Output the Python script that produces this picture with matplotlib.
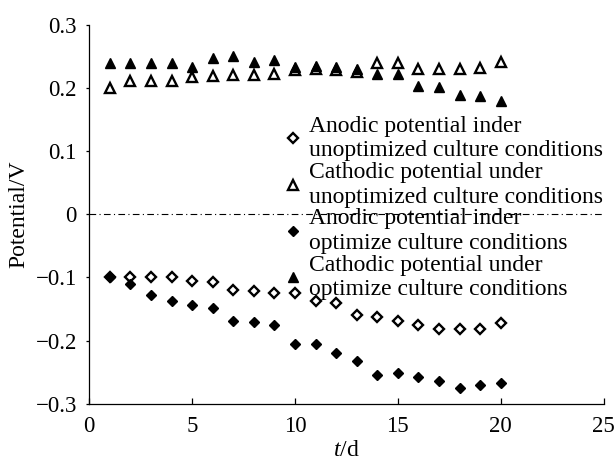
import matplotlib
matplotlib.use("Agg")
import matplotlib.pyplot as plt

plt.rcParams["font.family"] = ["Liberation Serif", "DejaVu Serif"]
plt.rcParams["mathtext.fontset"] = "custom"
plt.rcParams["mathtext.rm"] = "Liberation Serif"
plt.rcParams["mathtext.it"] = "Liberation Serif:italic"

days = list(range(1, 21))

anodic_unopt = [-0.100, -0.100, -0.100, -0.100, -0.105, -0.107, -0.120, -0.122, -0.125, -0.125,
                -0.138, -0.140, -0.159, -0.162, -0.169, -0.175, -0.181, -0.181, -0.182, -0.172]
cathodic_unopt = [0.200, 0.211, 0.211, 0.211, 0.217, 0.219, 0.220, 0.220, 0.223, 0.228,
                  0.230, 0.229, 0.226, 0.239, 0.239, 0.230, 0.230, 0.231, 0.232, 0.242]
anodic_opt = [-0.100, -0.111, -0.127, -0.138, -0.144, -0.148, -0.169, -0.171, -0.175, -0.206,
              -0.206, -0.219, -0.233, -0.255, -0.251, -0.258, -0.264, -0.275, -0.271, -0.267]
cathodic_opt = [0.240, 0.240, 0.240, 0.240, 0.234, 0.247, 0.251, 0.241, 0.245, 0.234,
                0.235, 0.234, 0.230, 0.222, 0.222, 0.203, 0.202, 0.189, 0.187, 0.180]

labels = [
    "Anodic potential inder\nunoptimized culture conditions",
    "Cathodic potential under\nunoptimized culture conditions",
    "Anodic potential inder\noptimize culture conditions",
    "Cathodic potential under\noptimize culture conditions",
]

fig = plt.figure(figsize=(6.14, 4.61), dpi=100)
ax = fig.add_axes([0.1454, 0.1243, 0.8376, 0.8215])

ax.axhline(0, color="black", lw=0.8, ls=(0, (6, 3, 1, 3)), zorder=1)

ax.plot(days, anodic_unopt, ls="none", marker="D", ms=5.2, mfc="white", mec="black", mew=1.7, label=labels[0], zorder=3)
ax.plot(days, cathodic_unopt, ls="none", marker="^", ms=7, mfc="white", mec="black", mew=1.7, label=labels[1], zorder=3)
ax.plot(days, anodic_opt, ls="none", marker="D", ms=5.4, mfc="black", mec="black", mew=1, label=labels[2], zorder=4)
ax.plot(days, cathodic_opt, ls="none", marker="^", ms=7, mfc="black", mec="black", mew=1, label=labels[3], zorder=4)

ax.set_xlim(0, 25)
ax.set_ylim(-0.3, 0.3)
ax.set_xticks([0, 5, 10, 15, 20, 25])
ax.set_yticks([-0.3, -0.2, -0.1, 0, 0.1, 0.2, 0.3])
ax.set_yticklabels(["\u22120.3", "\u22120.2", "\u22120.1", "0", "0.1", "0.2", "0.3"])

for s in ["top", "right"]:
    ax.spines[s].set_visible(False)
for s in ["left", "bottom"]:
    ax.spines[s].set_linewidth(0.9)

ax.tick_params(axis="y", direction="out", length=2, width=0.9, pad=7, labelsize=16.5)
ax.tick_params(axis="x", direction="in", length=4.5, width=0.9, pad=9, labelsize=16.5)

ax.set_xlabel("$t$/d", fontsize=17, labelpad=2)
ax.set_ylabel("Potential/V", fontsize=17, labelpad=4)

leg = ax.legend(loc="upper left", bbox_to_anchor=(0.381, 0.760), frameon=False,
                fontsize=17, handlelength=0.7, handletextpad=0.3, labelspacing=0.03,
                borderpad=0, borderaxespad=0, markerscale=1.0)
for t in leg.get_texts():
    t.set_linespacing(1.22)
leg.set_zorder(5)

fig.savefig("out.png", dpi=100)
